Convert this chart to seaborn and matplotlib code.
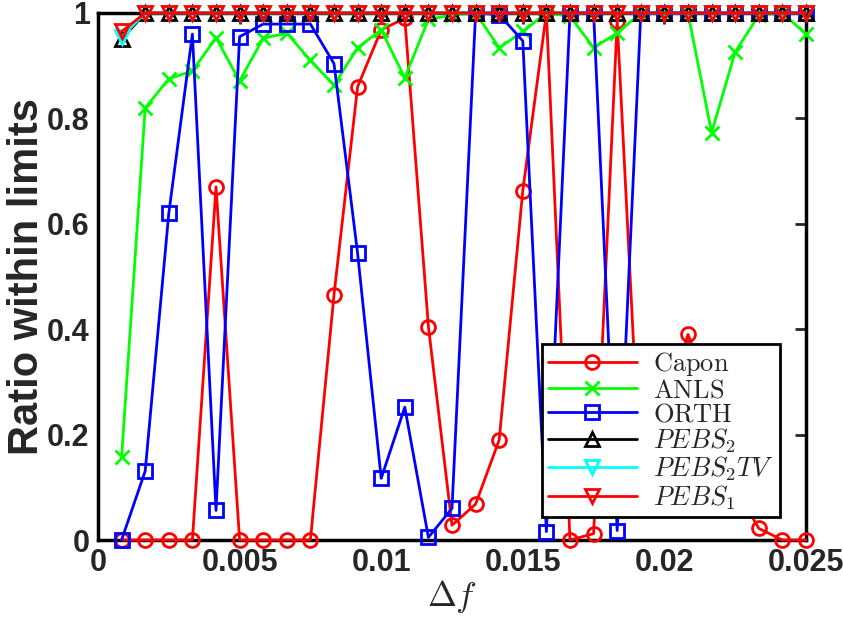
import pandas as pd
import seaborn as sns
import matplotlib.pyplot as plt

# Delta f grid (30 points)
delta_f = [0.000833, 0.001667, 0.0025, 0.003333, 0.004167, 0.005, 0.005833, 0.006667,
           0.0075, 0.008333, 0.009167, 0.01, 0.010833, 0.011667, 0.0125, 0.013333,
           0.014167, 0.015, 0.015833, 0.016667, 0.0175, 0.018333, 0.019167, 0.02,
           0.020833, 0.021667, 0.0225, 0.023333, 0.024167, 0.025]

capon = [0, 0, 0, 0, 0.67, 0, 0, 0, 0, 0.465, 0.86, 0.968, 0.99, 0.405, 0.028,
         0.068, 0.19, 0.663, 1.0, 0, 0.012, 0.985, 0.1, 0.24, 0.39, 0.27, 0.1,
         0.022, 0, 0]
anls = [0.157, 0.82, 0.875, 0.89, 0.953, 0.871, 0.952, 0.962, 0.91, 0.863, 0.934,
        0.968, 0.877, 0.988, 0.996, 1.0, 0.934, 0.965, 1.0, 0.994, 0.934, 0.962,
        1.0, 1.0, 1.0, 0.773, 0.926, 0.996, 1.0, 0.96]
orth = [0, 0.131, 0.62, 0.96, 0.056, 0.955, 0.979, 0.979, 0.979, 0.904, 0.544,
        0.117, 0.252, 0.005, 0.06, 1.0, 0.997, 0.947, 0.016, 1.0, 1.0, 0.018,
        1.0, 1.0, 1.0, 1.0, 1.0, 1.0, 1.0, 1.0]
pebs2 = [0.95] + [1.0] * 29
pebs2tv = [0.955] + [1.0] * 29
pebs1 = [0.965] + [1.0] * 29

series = [
    (r'$\mathrm{Capon}$', capon, '#ff0000', 'o'),
    (r'$\mathrm{ANLS}$', anls, '#00ff00', 'x'),
    (r'$\mathrm{ORTH}$', orth, '#0000ff', 's'),
    (r'$PEBS_2$', pebs2, '#000000', '^'),
    (r'$PEBS_2TV$', pebs2tv, '#00ffff', 'v'),
    (r'$PEBS_1$', pebs1, '#ff0000', 'v'),
]

sns.set_style('white')
plt.rcParams['font.family'] = ['Liberation Sans', 'DejaVu Sans']
plt.rcParams['mathtext.fontset'] = 'cm'

fig, ax = plt.subplots(figsize=(8.43, 6.24), dpi=100)
fig.subplots_adjust(left=98 / 843, right=806 / 843, bottom=84 / 624, top=611 / 624)

for name, vals, col, mk in series:
    df = pd.DataFrame({'df': delta_f, 'ratio': vals})
    sns.lineplot(data=df, x='df', y='ratio', ax=ax, color=col, marker=mk,
                 linewidth=2, markersize=10, markerfacecolor='none',
                 markeredgecolor=col, markeredgewidth=2, label=name,
                 clip_on=False)

ax.set_xlim(0, 0.025)
ax.set_ylim(0, 1)
ax.set_xticks([0, 0.005, 0.01, 0.015, 0.02, 0.025])
ax.set_xticklabels(['0', '0.005', '0.01', '0.015', '0.02', '0.025'])
ax.set_yticks([0, 0.2, 0.4, 0.6, 0.8, 1])
ax.set_yticklabels(['0', '0.2', '0.4', '0.6', '0.8', '1'])
ax.tick_params(direction='in', length=8, width=2, top=True, right=True,
               labelsize=22, pad=6)
for lbl in ax.get_xticklabels() + ax.get_yticklabels():
    lbl.set_fontweight('bold')
for sp in ax.spines.values():
    sp.set_linewidth(2.5)
    sp.set_color('black')
    sp.set_zorder(1)

ax.set_xlabel(r'$\Delta f$', fontsize=25, labelpad=0)
ax.set_ylabel('Ratio within limits', fontsize=30, fontweight='bold', labelpad=0)

leg = ax.legend(loc='lower right', bbox_to_anchor=(0.982, 0.018), fontsize=19,
                handlelength=3.4, labelspacing=0.0, borderpad=0.22,
                handletextpad=0.6, fancybox=False, framealpha=1)
leg.get_frame().set_edgecolor('black')
leg.get_frame().set_linewidth(2)
leg.set_zorder(10)

fig.savefig('out.png', dpi=100)
